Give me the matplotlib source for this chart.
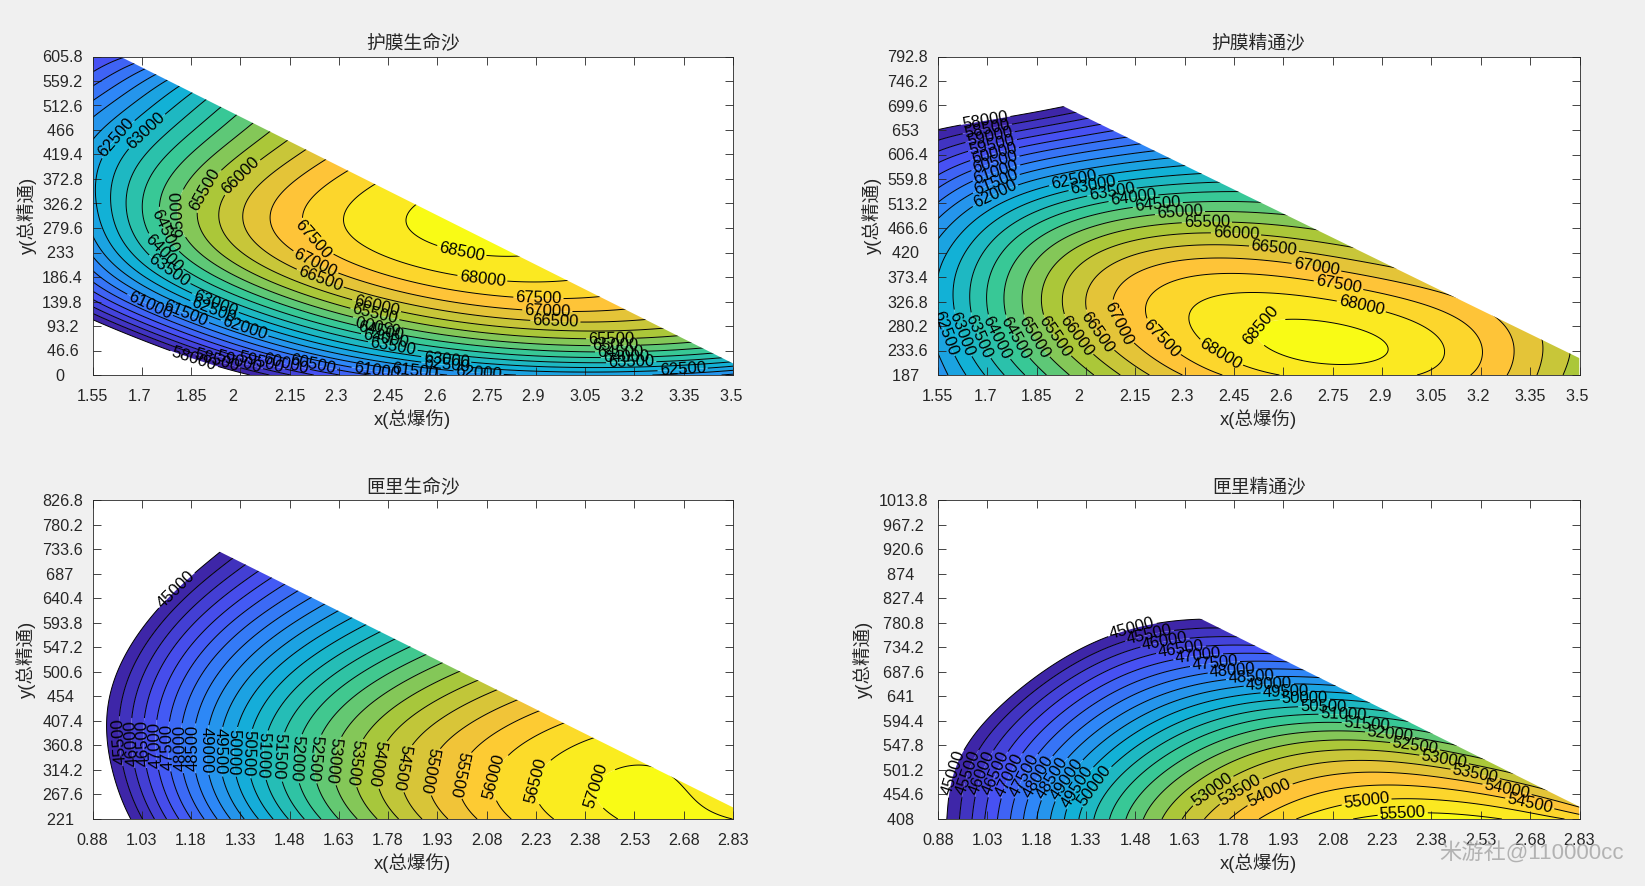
#!/usr/bin/env python3
import numpy as np
import matplotlib
matplotlib.use('Agg')
import matplotlib.pyplot as plt
from matplotlib.colors import LinearSegmentedColormap
from matplotlib.patches import Polygon
from numpy.polynomial import legendre

plt.rcParams['font.family'] = ['Liberation Sans', 'Noto Sans CJK SC']

titles = ['护膜生命沙', '护膜精通沙', '匣里生命沙', '匣里精通沙']

# tick values
x_hm = [1.55, 1.7, 1.85, 2, 2.15, 2.3, 2.45, 2.6, 2.75, 2.9, 3.05, 3.2, 3.35, 3.5]
x_xl = [0.88, 1.03, 1.18, 1.33, 1.48, 1.63, 1.78, 1.93, 2.08, 2.23, 2.38, 2.53, 2.68, 2.83]
y1 = [0, 46.6, 93.2, 139.8, 186.4, 233, 279.6, 326.2, 372.8, 419.4, 466, 512.6, 559.2, 605.8]
y2 = [187, 233.6, 280.2, 326.8, 373.4, 420, 466.6, 513.2, 559.8, 606.4, 653, 699.6, 746.2, 792.8]
y3 = [221, 267.6, 314.2, 360.8, 407.4, 454, 500.6, 547.2, 593.8, 640.4, 687, 733.6, 780.2, 826.8]
y4 = [408, 454.6, 501.2, 547.8, 594.4, 641, 687.6, 734.2, 780.8, 827.4, 874, 920.6, 967.2, 1013.8]

# surface values, one list per x column
gx1 = [1.55, 1.85, 2.15, 2.45, 2.75, 3.05, 3.35, 3.5]
gy1 = [0, 25, 50, 75, 100, 150, 200, 250, 300, 400, 500, 605.8]
z1 = [
    [52500, 53900, 55200, 56500, 57800, 59700, 60900, 61850, 62300, 62250, 61300, 59500],
    [56300, 57700, 58860, 60000, 61080, 63000, 64300, 65000, 65320, 64900, 63700, 61300],
    [58800, 60500, 61450, 62400, 63300, 64950, 66300, 67060, 67230, 66530, 65200, 63500],
    [60850, 61900, 63400, 64000, 65000, 66700, 67800, 68250, 68320, 67700, 66700, 65000],
    [61850, 63200, 64450, 65500, 66480, 67620, 68260, 68700, 68750, 68600, 67800, 66500],
    [62150, 63600, 64650, 65600, 66330, 67430, 68000, 68400, 68500, 68100, 67300, 66000],
    [61900, 63150, 64450, 65700, 66300, 67000, 67500, 67800, 67900, 67400, 66600, 65400],
    [61500, 62800, 64100, 65350, 65950, 66500, 67000, 67250, 67350, 66900, 66100, 64900],
]
gx2 = gx1
gy2 = [187, 250, 300, 350, 400, 450, 500, 550, 600, 650, 700, 792.8]
z2 = [
    [61700, 62150, 62500, 62500, 62300, 62000, 61400, 60250, 59250, 58100, 56800, 54000],
    [64300, 64900, 65420, 65400, 64950, 64400, 63450, 62200, 60700, 59500, 57500, 54500],
    [66250, 67050, 67300, 67150, 66900, 66050, 64650, 63150, 61900, 60300, 58600, 56300],
    [67650, 68250, 68300, 67980, 67150, 66000, 64800, 63650, 62300, 60900, 59700, 57300],
    [68200, 68750, 68450, 67650, 66750, 65800, 64500, 63400, 62200, 60800, 59500, 57000],
    [67900, 68020, 67700, 66850, 66150, 65000, 63800, 62600, 61300, 60000, 58600, 56000],
    [66650, 66650, 66600, 66000, 65000, 63800, 62500, 61200, 59900, 58500, 57100, 54500],
    [65700, 65650, 65700, 65100, 64100, 62900, 61600, 60300, 59000, 57600, 56200, 53600],
]
gx3 = [0.88, 1.03, 1.2, 1.4, 1.6, 1.8, 2.0, 2.2, 2.4, 2.6, 2.83]
gy3 = [221, 300, 400, 500, 600, 700, 826.8]
z3 = [
    [43400, 44000, 44500, 43900, 43000, 41000, 38500],
    [45400, 46200, 46550, 45900, 44900, 43250, 40700],
    [47800, 48470, 48650, 47750, 46350, 44800, 43000],
    [50250, 50780, 50950, 49600, 48200, 46500, 44600],
    [52250, 52800, 52550, 51250, 49800, 47800, 45900],
    [53850, 54330, 54100, 52450, 50800, 49000, 47000],
    [55200, 55540, 55000, 53550, 51800, 50000, 47900],
    [56300, 56420, 55500, 54300, 52600, 50700, 48600],
    [56750, 56950, 56100, 54900, 53000, 51100, 49000],
    [57150, 57100, 56500, 55100, 53200, 51200, 49100],
    [56980, 56300, 55400, 54700, 52800, 50800, 48700],
]
gx4 = gx3
gy4 = [408, 450, 500, 550, 600, 650, 700, 750, 800, 900, 1013.8]
z4 = [
    [44650, 44550, 44450, 44000, 43100, 42100, 40800, 39300, 37800, 34800, 31800],
    [46650, 46450, 46130, 45600, 44950, 44100, 43000, 41700, 40000, 37000, 34000],
    [48650, 48370, 48070, 47470, 46550, 45600, 44750, 43500, 42000, 39000, 36000],
    [51050, 50800, 50180, 49250, 48300, 47350, 46350, 45150, 43900, 41000, 38000],
    [52800, 52450, 51700, 50720, 49700, 48700, 47600, 45900, 44400, 41800, 38800],
    [54100, 53700, 52900, 51800, 50600, 49350, 47850, 45980, 44500, 41800, 38800],
    [55050, 54650, 53650, 52480, 50950, 49600, 47950, 45500, 44000, 41300, 38300],
    [55580, 54950, 54050, 52780, 50900, 49350, 47550, 44900, 43300, 40500, 37500],
    [55700, 54950, 53800, 52150, 50000, 48400, 46700, 44000, 42300, 39500, 36500],
    [55430, 54450, 53010, 51100, 49000, 47300, 45500, 42900, 41200, 38400, 35400],
    [54800, 53400, 51800, 49900, 47800, 46000, 44000, 41500, 39500, 36800, 33800],
]

# lowest and highest contour level of each panel
level_range = [(58000, 68500), (58000, 68500), (45000, 57000), (45000, 55500)]

# the sloped cut: two end points of each panel's constraint line
cut1 = [(1.634, 605.8), (3.5, 22)]
cut2 = [(1.55, 814.8), (3.5, 219)]
cut3 = [(0.88, 848.9), (2.83, 243)]
cut4 = [(0.88, 1036), (2.83, 431.4)]

parula = ['#3e26a8', '#4752f4', '#2e87f7', '#12b1d6', '#37c897', '#abc739', '#fec338', '#f9fb15']

# where the labels sit, as (level, px, py) in crop pixels of the reference
labels1 = [(62500, 120, 345), (63000, 185, 320), (66000, 400, 460), (65500, 322, 505),
           (65000, 272, 580), (64500, 255, 620), (64000, 240, 690), (63500, 245, 750),
           (67500, 570, 655), (67000, 570, 735), (66500, 583, 775), (68500, 897, 715),
           (68000, 945, 792), (67500, 1072, 838), (67000, 1092, 875), (66500, 1110, 905),
           (66000, 708, 865), (65500, 705, 885), (65000, 712, 905), (64500, 720, 930),
           (64000, 730, 955), (63500, 745, 985), (63000, 345, 860), (62500, 340, 885),
           (62000, 412, 930), (61500, 280, 885), (61000, 200, 860), (63000, 865, 1025),
           (62500, 865, 1040), (62000, 938, 1060), (61500, 795, 1052), (61000, 710, 1045),
           (60500, 565, 1040), (60000, 505, 1030), (59500, 450, 1028), (59000, 400, 1028),
           (58500, 350, 1025), (58000, 300, 1020), (65500, 1235, 945), (65000, 1245, 965),
           (64500, 1255, 985), (64000, 1268, 1005), (63500, 1280, 1025), (62500, 1395, 1045)]
labels2 = [(62500, 410, 470), (63000, 455, 495), (63500, 497, 515), (64000, 545, 530),
           (64500, 600, 555), (65000, 650, 585), (65500, 710, 615), (66000, 775, 650),
           (66500, 860, 690), (67000, 955, 745), (67500, 1005, 795), (68000, 1055, 865),
           (68500, 838, 930), (68000, 738, 1008), (67500, 605, 960), (67000, 515, 908),
           (66500, 465, 935), (66000, 420, 945), (65500, 370, 950), (65000, 325, 950),
           (64500, 285, 950), (64000, 245, 950), (63500, 205, 945), (63000, 165, 938),
           (62500, 130, 935), (62000, 232, 515), (61500, 235, 480), (61000, 235, 445),
           (60500, 232, 410), (60000, 230, 380), (59500, 225, 350), (59000, 220, 325),
           (58500, 215, 305), (58000, 212, 285)]
labels3 = [(45000, 250, 360), (45500, 122, 830), (46000, 150, 835), (46500, 178, 835),
           (47000, 205, 840), (47500, 232, 845), (48000, 260, 850), (48500, 290, 850),
           (49000, 322, 855), (49500, 350, 860), (50000, 383, 860), (50500, 415, 865),
           (51000, 455, 870), (51500, 488, 875), (52000, 525, 880), (52500, 565, 880),
           (53000, 605, 885), (53500, 650, 890), (54000, 703, 895), (54500, 755, 905),
           (55000, 818, 915), (55500, 885, 925), (56000, 965, 930), (56500, 1065, 945),
           (57000, 1225, 975)]
labels4 = [(45000, 505, 500), (45500, 540, 515), (46000, 572, 535), (46500, 605, 555),
           (47000, 640, 570), (47500, 675, 590), (48000, 712, 615), (48500, 750, 635),
           (49000, 787, 655), (49500, 822, 680), (50000, 862, 700), (50500, 900, 730),
           (51000, 942, 760), (51500, 990, 785), (52000, 1038, 818), (52500, 1090, 850),
           (53000, 1150, 890), (53500, 1215, 930), (54000, 1282, 970), (54500, 1328, 1020),
           (45000, 135, 925), (45500, 165, 925), (46000, 195, 925), (46500, 220, 925),
           (47000, 250, 930), (47500, 285, 935), (48000, 315, 940), (48500, 345, 945),
           (49000, 375, 950), (49500, 390, 965), (50000, 420, 955), (53000, 670, 975),
           (53500, 730, 980), (54000, 790, 990), (55000, 990, 1010), (55500, 1065, 1045)]

# labels that read top to bottom in the reference
flip_levels = [[65000], [], list(range(45500, 56000, 500)), []]

# axes boxes in reference pixels: left, right, top, bottom
boxes = [(92.5, 733, 56.5, 375), (937.8, 1579.5, 56.5, 375),
         (92.5, 733, 500, 819), (937.8, 1579.5, 500, 819)]
# crop pixels of the same boxes, only used to turn the label spots into data values
crops = [(73, 1508, 109, 1065), (107, 1545, 109, 1065),
         (73, 1508, 105, 1062), (100, 1432, 105, 1062)]
# degree of the smoothing fit through the read values (x, y)
fit_deg = [(4, 6), (5, 5), (5, 4), (5, 5)]

cmap = LinearSegmentedColormap.from_list('parula', parula)
W, H = 1645, 886


def pad(ticks):
    # MATLAB keeps the tick labels as a char matrix, short ones carry trailing blanks
    s = [f'{v:g}' for v in ticks]
    n = max(len(t) for t in s)
    return [t.ljust(n) for t in s]


def smooth(gx, gy, z, deg, xt, yt):
    # least squares through the read values so the contours come out clean
    gx, gy = np.array(gx, float), np.array(gy, float)
    xa, xb, ya, yb = gx[0], gx[-1], gy[0], gy[-1]
    X, Y = np.meshgrid(gx, gy, indexing='ij')
    u = 2 * (X.ravel() - xa) / (xb - xa) - 1
    v = 2 * (Y.ravel() - ya) / (yb - ya) - 1
    A = legendre.legvander2d(u, v, deg)
    coef = np.linalg.lstsq(A, np.array(z, float).ravel(), rcond=None)[0]
    fx = np.linspace(xt[0], xt[-1], 500)
    fy = np.linspace(yt[0], yt[-1], 500)
    FX, FY = np.meshgrid(fx, fy)
    fu = 2 * (FX - xa) / (xb - xa) - 1
    fv = 2 * (FY - ya) / (yb - ya) - 1
    return FX, FY, legendre.legvander2d(fu, fv, deg) @ coef


def panel(i, xt, yt, gx, gy, z, cut, labels):
    l, r, t, b = boxes[i]
    ax = fig.add_axes([l / W, 1 - b / H, (r - l) / W, (b - t) / H])
    ax.set_facecolor('white')

    FX, FY, FZ = smooth(gx, gy, z, fit_deg[i], xt, yt)

    lo, hi = level_range[i]
    levels = np.arange(lo, hi + 1, 500)
    fill_levels = np.append(levels, hi + 5000)
    clip = Polygon([(xt[0], yt[0]), (xt[-1], yt[0]), cut[1], cut[0], (xt[0], yt[-1] + 100)],
                   transform=ax.transData, fc='none', ec='none')
    ax.add_patch(clip)
    # colour each band by its lower level like contourf does in MATLAB
    band_colors = [cmap(j / (len(levels) - 1)) for j in range(len(levels))]
    cf = ax.contourf(FX, FY, FZ, levels=fill_levels, colors=band_colors, antialiased=True)
    cs = ax.contour(FX, FY, FZ, levels=levels, colors='k', linewidths=0.7)
    cf.set_clip_path(clip)
    cs.set_clip_path(clip)

    ax.set_xlim(xt[0], xt[-1])
    ax.set_ylim(yt[0], yt[-1])

    # set the label style once, then place each label on its own level
    cs.clabel(levels, manual=[], fmt='%d', fontsize=12, colors='k')
    cx0, cx1, cy0, cy1 = crops[i]
    for lev, px, py in labels:
        dx = xt[0] + (px - cx0) / (cx1 - cx0) * (xt[-1] - xt[0])
        dy = yt[-1] - (py - cy0) / (cy1 - cy0) * (yt[-1] - yt[0])
        cs.labelIndiceList = [int((lev - lo) / 500)]
        cs.add_label_near(dx, dy, inline=True, inline_spacing=2)
        txt = cs.labelTexts[-1]
        if lev in flip_levels[i] and txt.get_rotation() > 60:
            txt.set_rotation(txt.get_rotation() - 180)

    ax.set_xticks(xt)
    ax.set_yticks(yt)
    ax.set_xticklabels(pad(xt))
    ax.set_yticklabels(pad(yt))
    ax.tick_params(direction='in', length=6, width=0.6, top=True, right=True,
                   labelsize=11.6, colors='#262626')
    ax.tick_params(axis='x', pad=10)
    ax.tick_params(axis='y', pad=7)
    for sp in ax.spines.values():
        sp.set_linewidth(0.6)
        sp.set_color('#262626')
    ax.set_title(titles[i], fontsize=13.5, color='#262626', pad=5)
    ax.set_xlabel('x(总爆伤)', fontsize=13.3, color='#262626', labelpad=4)
    ax.set_ylabel('y(总精通)', fontsize=13.3, color='#262626', labelpad=4)
    return ax


fig = plt.figure(figsize=(W / 100, H / 100), dpi=100, facecolor='#f0f0f0')
panel(0, x_hm, y1, gx1, gy1, z1, cut1, labels1)
panel(1, x_hm, y2, gx2, gy2, z2, cut2, labels2)
panel(2, x_xl, y3, gx3, gy3, z3, cut3, labels3)
panel(3, x_xl, y4, gx4, gy4, z4, cut4, labels4)

fig.text(1624 / W, 1 - 853 / H, '米游社@110000cc', ha='right', va='center',
         fontsize=16, color='#a8a8a8', alpha=0.85)

fig.savefig('out.png', dpi=100, facecolor=fig.get_facecolor())
